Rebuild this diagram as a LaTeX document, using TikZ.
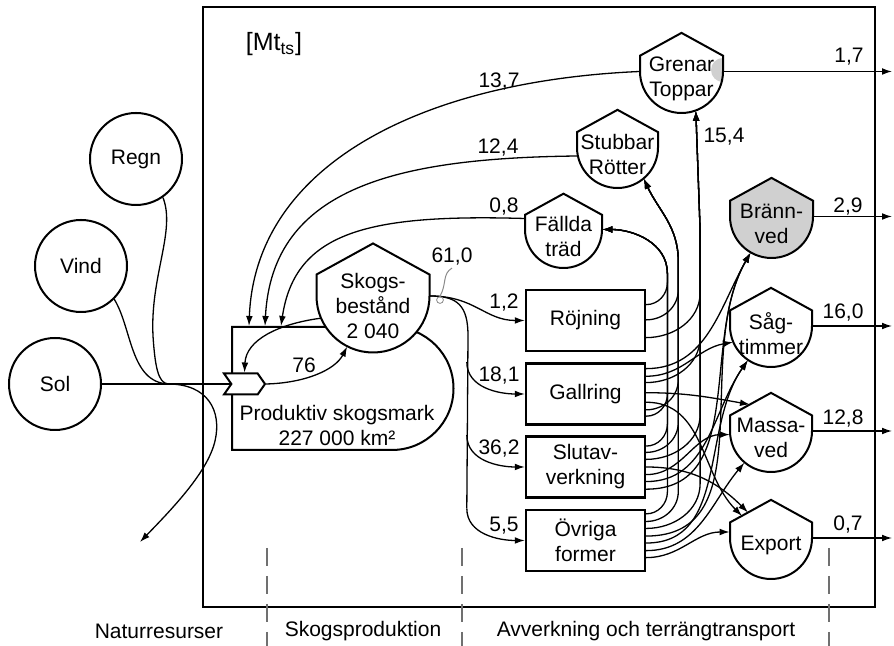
\documentclass[tikz,border=0pt]{standalone}
\usepackage{fontspec}
\setmainfont{Liberation Sans}
\usetikzlibrary{positioning,arrows.meta,calc,shapes.misc,shapes.symbols}
\definecolor{FuelGrey}{HTML}{D0D0D0}
\definecolor{NoteGrey}{HTML}{8A8A8A}
\definecolor{RuleGrey}{HTML}{707070}

% tank: pointed roof, straight sides, round bottom
\newcommand\tank[5][white]{%
  \draw[shapeline,fill=#1] ($#3+(-#4,0)$) -- ++(0,0.38*#4) -- ($#3+(0,0.93*#4)$)
    -- ($#3+(#4,0.38*#4)$) -- ($#3+(#4,0)$)
    arc[start angle=0,end angle=-180,radius=#4*0.5pt] -- cycle;
  \node[circle,inner sep=0pt,minimum size=#4pt] (#2) at #3 {};
  \node[align=center] (#2-txt) at ($#3+(0,-0.18*#4)$) {#5};}

\begin{document}
\begin{tikzpicture}[x=0.5pt,y=0.5pt,font=\fontsize{10.5}{12.5}\selectfont,
    shapeline/.style={line width=1pt},
    src/.style={circle,draw,line width=1pt,minimum size=46pt,inner sep=0pt},
    proc/.style={draw,line width=1.2pt,minimum width=59.5pt,minimum height=30.5pt,align=center,inner sep=1pt},
    landbox/.style={draw,line width=1pt,rounded rectangle,rounded rectangle west arc=none,
                    minimum width=110.75pt,minimum height=61.5pt,inner sep=0pt},
    gatebox/.style={draw,line width=1pt,fill=white,signal,signal to=east,signal from=west,
                    signal pointer angle=110,minimum width=20.5pt,minimum height=10.5pt,inner sep=0pt},
    wire/.style={line width=0.65pt},
    flow/.style={wire,-{Latex[length=5pt,width=3.4pt]}},
    num/.style={inner sep=1pt},
    zone/.style={RuleGrey,line width=0.6pt,dash pattern=on 9pt off 5pt}]
  \useasboundingbox (0,0) rectangle (894,646);
  \draw[line width=0.7pt] (203,39) rectangle (875,639);
  \node[font=\fontsize{12.5}{14}\selectfont] (unit) at (274,602) {[Mt\textsubscript{ts}]};

  % natural resources
  \node[src] (regn) at (136,487) {Regn};
  \node[src] (vind) at (81,380)  {Vind};
  \node[src] (sol)  at (55,262)  {Sol};
  \coordinate (mix)  at (168,262);
  \coordinate (sink) at (140,104);

  % forest production
  \node[landbox] (prod) at (342.75,257.5) {};
  \node[align=center] (prod-txt) at (337,220) {Produktiv skogsmark\\227 000 km²};
  \tank{skog}{(373,350)}{56.5}{Skogs-\\bestånd\\2 040}
  \node[gatebox] (gate) at (244.5,262) {};
  \coordinate (landtop) at (prod.west |- prod.north);

  % harvest
  \node[proc] (roj) at (585.5,325.5) {Röjning};
  \node[proc] (gal) at (585.5,252)   {Gallring};
  \node[proc] (slu) at (585.5,179)   {Slutav-\\verkning};
  \node[proc] (ovr) at (585.5,105.5) {Övriga\\former};

  % assortments
  \fill[FuelGrey] (723,588) arc[start angle=90,end angle=270,radius=6pt] -- cycle;
  \tank[none]{gren}{(681.5,574.5)}{41.5}{Grenar\\Toppar}
  \tank{stub}{(617.5,498.5)}{40.5}{Stubbar\\Rötter}
  \tank{fall}{(563.5,416.5)}{38.5}{Fällda\\träd}
  \tank[FuelGrey]{bran}{(771.5,429.5)}{41.5}{Bränn-\\ved}
  \tank{sag}{(771,320)}{41}{Såg-\\timmer}
  \tank{mas}{(771,215)}{41}{Massa-\\ved}
  \tank{exp}{(771,108)}{41}{Export}
  \coordinate (masroof)  at ($(mas)+(-21,26.5)$);
  \coordinate (exproof1) at ($(exp)+(-29,22)$);
  \coordinate (exproof2) at ($(exp)+(-23,25.5)$);
  \coordinate (expside)  at ($(exp.west)+(0,6)$);
  \coordinate (tf) at ($(fall.east)+(65,-44)$);
  \coordinate (ts) at ($(stub.-50)+(34.5,-82.5)$);
  \coordinate (tg) at ($(gren.-70)+(4.3,-120)$);

  % sun, wind and rain
  \draw[wire] (sol) -- (gate.west);
  \draw[wire] (vind.-45) .. controls (132,318) and (130,264) .. (mix);
  \draw[wire] (regn.-55) .. controls (176,415) and (150,370) .. (153,310)
              .. controls (155,280) and (158,263) .. (mix);
  \draw[flow] (mix) .. controls (208,262) and (222,235) .. (215,205)
              .. controls (208,175) and (175,140) .. (sink);

  % growth loop
  \draw[flow] (skog.203) .. controls (278,322) and (246,306) .. (gate.north);
  \draw[flow] (gate.east) .. controls (305,263) and (335,276) .. (skog.-117);
  \node[num] (l76) at (304,281) {76};

  % residues left in the forest
  \draw[flow] (gren.west) .. controls (420,565) and (255,480) .. ($(landtop)+(18,0)$);
  \draw[flow] (stub.192) .. controls (400,488) and (272,460) .. ($(landtop)+(34,0)$);
  \draw[flow] ($(fall.west)+(0,11)$) .. controls (370,432) and (295,415) .. ($(landtop)+(50,0)$);
  \node[num] (l137) at (499,564) {13,7};
  \node[num] (l124) at (498,498) {12,4};
  \node[num] (l08)  at (504,439) {0,8};

  % felling
  \draw[flow] (skog.east) .. controls (475,350) and (485,325.5) .. (roj.west);
  \coordinate (fork1) at ($(gal.west)+(-58,32)$);
  \coordinate (fork2) at ($(slu.west)+(-58,32)$);
  \coordinate (fork3) at ($(ovr.west)+(-58,32)$);
  \draw[wire] (skog.east) .. controls (458,350) and (468,340) .. (468,310) -- (fork3);
  \foreach \p/\r in {fork1/gal,fork2/slu,fork3/ovr}
    \draw[flow] (\p) to[out=-90,in=180] (\r.west);
  \node[circle,draw=NoteGrey,line width=0.4pt,inner sep=0pt,minimum size=3.4pt] (tag) at (440,346) {};
  \node[num] (l610) at (452,389) {61,0};
  \draw[NoteGrey,line width=0.5pt] (tag.north) .. controls (447,362) and (442,372) .. (l610.south);
  \node[num] (l12)  at (504,343) {1,2};
  \node[num] (l181) at (499,270) {18,1};
  \node[num] (l362) at (499,197) {36,2};
  \node[num] (l55)  at (504,120) {5,5};

  % harvest to assortments
  \foreach \r/\f in {roj/0.25,gal/0.85,slu/0.17,ovr/0.08}
    \draw[flow] ($(\r.north east)!\f!(\r.south east)$) coordinate (s)
      to[out=0,in=-90] ($(tf |- s)+(0,22)$) -- (tf) to[out=90,in=0] (fall.east);
  \foreach \r/\f in {roj/0.49,gal/0.75,slu/0.27,ovr/0.2}
    \draw[flow] ($(\r.north east)!\f!(\r.south east)$) coordinate (s)
      to[out=0,in=-90] ($(ts |- s)+(0,30)$) -- (ts) to[out=90,in=-65] (stub.-50);
  \foreach \r/\f in {roj/0.77,gal/0.32,slu/0.38,ovr/0.31}
    \draw[flow] ($(\r.north east)!\f!(\r.south east)$) coordinate (s)
      to[out=0,in=-90] ($(tg |- s)+(0,45)$) -- (tg) -- (gren.-70);
  \foreach \r/\f/\dst/\a in {gal/0.10/bran.-120/-120,slu/0.85/bran.-120/-120,ovr/0.43/bran.-120/-120,
                             gal/0.22/sag.203/190,slu/0.73/sag.-124/-125,ovr/0.54/sag.-124/-125,
                             gal/0.48/masroof/170,slu/0.62/mas.185/180,ovr/0.66/mas.-130/-130,
                             gal/0.63/exproof1/135,slu/0.5/exproof2/135,ovr/0.77/expside/180}
    \draw[flow] ($(\r.north east)!\f!(\r.south east)$) to[out=0,in=\a] (\dst);
  \node[num] (l154) at (724,509) {15,4};

  % leaving the system
  \coordinate (rim) at (892,0);
  \foreach \t in {gren,bran,sag,mas,exp}
    \draw[flow] (\t.east) -- (\t.east -| rim);
  \node[num] (l17)  at (849,589) {1,7};
  \node[num] (l29)  at (848,439) {2,9};
  \node[num] (l160) at (843,333) {16,0};
  \node[num] (l128) at (843,227) {12,8};
  \node[num] (l07)  at (848,121) {0,7};

  % stages
  \foreach \x in {267,462,829}
    \draw[zone] (\x,98) -- (\x,0);
  \node (natur)     at (159,15) {Naturresurser};
  \node (skogsprod) at (363,15) {Skogsproduktion};
  \node (avverk)    at (646,15) {Avverkning och terrängtransport};
\end{tikzpicture}
\end{document}
